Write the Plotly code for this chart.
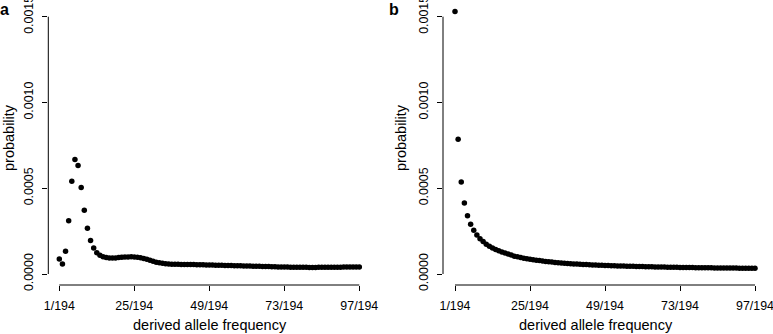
import plotly.graph_objects as go

W, H = 773, 334

# ---- data ----
freq_index = list(range(1, 98))  # k in k/194
tick_vals = [1, 25, 49, 73, 97]
tick_text = ["1/194", "25/194", "49/194", "73/194", "97/194"]
y_tick_vals = [0.0, 0.0005, 0.0010, 0.0015]

# panel a probabilities (units of 1e-5)
prob_a_e5 = [
    8.7, 5.8, 13.2, 31.1, 54.0, 66.8, 63.3, 50.5, 37.1, 26.6,
    19.6, 15.2, 12.4, 10.9, 10.0, 9.6, 9.4, 9.35, 9.4, 9.55,
    9.7, 9.85, 9.95, 10.0, 9.95, 9.8, 9.5, 9.1, 8.6, 8.0,
    7.4, 6.9, 6.5, 6.2, 6.0, 5.85, 5.75, 5.68, 5.62, 5.58,
    5.55, 5.52, 5.5, 5.47, 5.44, 5.4, 5.35, 5.3, 5.25, 5.2,
    5.15, 5.1, 5.05, 5.0, 4.95, 4.9, 4.85, 4.8, 4.75, 4.7,
    4.65, 4.6, 4.55, 4.5, 4.45, 4.4, 4.35, 4.3, 4.25, 4.2,
    4.15, 4.1, 4.06, 4.02, 3.98, 3.95, 3.92, 3.9, 3.88, 3.87,
    3.86, 3.86, 3.86, 3.87, 3.88, 3.9, 3.92, 3.94, 3.96, 3.98,
    4.0, 4.02, 4.04, 4.06, 4.08, 4.1, 4.12,
]

# panel b probabilities (units of 1e-5)
prob_b_e5 = [
    153.0, 78.5, 53.6, 41.4, 34.0, 29.0, 25.5, 22.7, 20.6, 18.9,
    17.4, 16.2, 15.2, 14.3, 13.5, 12.8, 12.2, 11.6, 11.1, 10.4,
    10.0, 9.6, 9.2, 8.9, 8.6, 8.3, 8.0, 7.8, 7.55, 7.35,
    7.15, 6.95, 6.75, 6.6, 6.45, 6.3, 6.15, 6.0, 5.9, 5.8,
    5.7, 5.6, 5.5, 5.4, 5.3, 5.22, 5.14, 5.06, 4.98, 4.9,
    4.84, 4.78, 4.72, 4.66, 4.6, 4.55, 4.5, 4.45, 4.4, 4.35,
    4.3, 4.26, 4.22, 4.18, 4.14, 4.1, 4.06, 4.02, 3.98, 3.95,
    3.92, 3.89, 3.86, 3.83, 3.8, 3.77, 3.74, 3.71, 3.68, 3.66,
    3.63, 3.61, 3.59, 3.57, 3.55, 3.53, 3.51, 3.49, 3.47, 3.45,
    3.43, 3.41, 3.39, 3.37, 3.35, 3.33, 3.31,
]

prob_a = [v * 1e-5 for v in prob_a_e5]
prob_b = [v * 1e-5 for v in prob_b_e5]

FONT = "Liberation Sans, Arial, Helvetica, sans-serif"

def px_x(p):
    return p / W

def px_y(p):
    return 1 - p / H

fig = go.Figure()
fig.add_trace(go.Scatter(x=freq_index, y=prob_a, mode="markers",
                         marker=dict(color="black", size=5.5), cliponaxis=False,
                         xaxis="x", yaxis="y", showlegend=False))
fig.add_trace(go.Scatter(x=freq_index, y=prob_b, mode="markers",
                         marker=dict(color="black", size=5.5), cliponaxis=False,
                         xaxis="x2", yaxis="y2", showlegend=False))

ydom = [px_y(285), px_y(10)]
yrng = [-6.413e-5, 0.00153906]

common_x = dict(showgrid=False, zeroline=False, showline=False, ticks="outside",
                automargin=False, ticklabeloverflow="allow", ticklabelstandoff=4,
                ticklen=5, tickwidth=1, tickcolor="black", tickvals=tick_vals,
                ticktext=tick_text, tickfont=dict(family=FONT, size=12.4, color="black"))
common_y = dict(showgrid=False, zeroline=False, showline=False, ticks="outside",
                automargin=False, ticklabeloverflow="allow", ticklabelstandoff=4,
                ticklen=5, tickwidth=1, tickcolor="black", tickvals=y_tick_vals,
                tickformat=".4f", tickangle=-90, range=yrng, domain=ydom,
                tickfont=dict(family=FONT, size=12.4, color="black"))

fig.update_layout(
    template="none",
    width=W, height=H, margin=dict(l=0, r=0, t=0, b=0, pad=0),
    paper_bgcolor="white", plot_bgcolor="white",
    xaxis=dict(domain=[px_x(48.3), px_x(370)], range=[-2.52, 100.42], anchor="y", **common_x),
    yaxis=dict(anchor="x", **common_y),
    xaxis2=dict(domain=[px_x(443), px_x(765)], range=[-2.84, 100.2], anchor="y2", **common_x),
    yaxis2=dict(anchor="x2", **common_y),
)

shapes = []
for xa, ya in [("x", "y"), ("x2", "y2")]:
    shapes.append(dict(type="line", xref=f"{xa} domain", yref=ya, x0=0, x1=0,
                       y0=y_tick_vals[0], y1=y_tick_vals[-1], line=dict(color="black", width=1)))
    shapes.append(dict(type="line", xref=xa, yref=f"{ya} domain", x0=tick_vals[0], x1=tick_vals[-1],
                       y0=0, y1=0, line=dict(color="black", width=1)))
fig.update_layout(shapes=shapes)

ann = []
for cx, label in [(209.5, "derived allele frequency"), (596, "derived allele frequency")]:
    ann.append(dict(text=label, x=px_x(cx), y=px_y(325), xref="paper", yref="paper",
                    xanchor="center", yanchor="middle", showarrow=False,
                    font=dict(family=FONT, size=14.5, color="black")))
for cx in [9, 401]:
    ann.append(dict(text="probability", x=px_x(cx), y=px_y(138), xref="paper", yref="paper",
                    xanchor="center", yanchor="middle", showarrow=False, textangle=-90,
                    font=dict(family=FONT, size=14.5, color="black")))
for cx, cy, label in [(4, 9, "a"), (394, 9, "b")]:
    ann.append(dict(text=f"<b>{label}</b>", x=px_x(cx), y=px_y(cy), xref="paper", yref="paper",
                    xanchor="center", yanchor="middle", showarrow=False,
                    font=dict(family=FONT, size=16, color="black")))
fig.update_layout(annotations=ann)

fig.write_html(
    "out.html",
    config={"displayModeBar": False, "staticPlot": True},
    post_script="document.body.style.margin='0';document.body.style.padding='0';"
                "document.body.style.overflow='hidden';",
)
